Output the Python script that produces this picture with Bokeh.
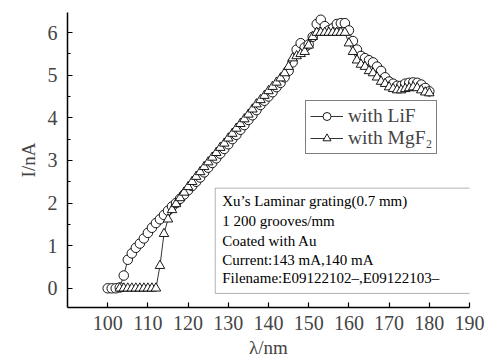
from bokeh.plotting import figure
from bokeh.models import Range1d, Legend, LegendItem, BoxAnnotation, Label, FixedTicker
from bokeh.embed import file_html
from bokeh.resources import INLINE

# Data
lif_wl = list(range(100, 181))
lif_i = [0, 0, 0, 0.02, 0.3, 0.67, 0.82, 0.95, 1.05, 1.17,
         1.3, 1.42, 1.53, 1.62, 1.72, 1.82, 1.92, 2.0, 2.1, 2.2,
         2.3, 2.4, 2.5, 2.6, 2.72, 2.83, 2.94, 3.05, 3.16, 3.27,
         3.38, 3.5, 3.6, 3.72, 3.83, 3.95, 4.06, 4.18, 4.3, 4.4,
         4.5, 4.6, 4.72, 4.82, 4.95, 5.1, 5.3, 5.6, 5.75, 5.65,
         5.72, 5.9, 6.2, 6.3, 6.15, 6.05, 6.1, 6.2, 6.22, 6.22,
         6.05, 5.8, 5.6, 5.45, 5.4, 5.35, 5.3, 5.2, 5.1, 4.95,
         4.85, 4.8, 4.75, 4.75, 4.8, 4.82, 4.83, 4.82, 4.78, 4.7,
         4.62]

mgf2_wl = list(range(103, 181))
mgf2_i = [0, 0, 0, 0, 0, 0, 0, 0, 0, 0,
          0.53, 1.28, 1.62, 1.84, 1.98, 2.12, 2.25, 2.38, 2.5, 2.62,
          2.73, 2.85, 2.96, 3.07, 3.18, 3.3, 3.4, 3.52, 3.63, 3.75,
          3.86, 3.97, 4.08, 4.2, 4.32, 4.42, 4.52, 4.63, 4.73, 4.83,
          4.93, 5.05, 5.2, 5.4, 5.45, 5.5, 5.55, 5.7, 5.9, 6.0,
          6.0, 6.0, 6.0, 6.0, 6.0, 6.0, 6.0, 5.75, 5.55, 5.35,
          5.25, 5.2, 5.1, 5.05, 4.95, 4.85, 4.8, 4.72, 4.68, 4.65,
          4.65, 4.68, 4.7, 4.72, 4.7, 4.65, 4.6, 4.58]

x_ticks = [100, 110, 120, 130, 140, 150, 160, 170, 180, 190]
y_ticks = [0, 1, 2, 3, 4, 5, 6]
y_minor = [0.5, 1.5, 2.5, 3.5, 4.5, 5.5]

series_labels = ["with LiF", "with MgF\u2082"]
info_lines = ["Xu\u2019s Laminar grating(0.7 mm)",
              "1 200 grooves/mm",
              "Coated with Au",
              "Current:143 mA,140 mA",
              "Filename:E09122102\u2013,E09122103\u2013"]

FONT = "Liberation Serif"

p = figure(width=489, height=360, output_backend="svg", toolbar_location=None,
           x_range=Range1d(90, 190), y_range=Range1d(-0.45, 6.47),
           min_border_left=67, min_border_right=20, min_border_top=12, min_border_bottom=50)
p.outline_line_color = None
p.xgrid.visible = False
p.ygrid.visible = False

for ax in (p.xaxis[0], p.yaxis[0]):
    ax.axis_line_width = 1.5
    ax.major_tick_line_width = 1.2
    ax.minor_tick_line_width = 1.2
    ax.major_tick_in = 5
    ax.major_tick_out = 0
    ax.minor_tick_in = 3
    ax.minor_tick_out = 0
    ax.major_label_text_font = FONT
    ax.major_label_text_font_size = "20px"
    ax.axis_label_text_font = FONT
    ax.axis_label_text_font_size = "19px"
    ax.axis_label_text_font_style = "normal"

p.xaxis[0].ticker = FixedTicker(ticks=x_ticks)
p.yaxis[0].ticker = FixedTicker(ticks=y_ticks, minor_ticks=y_minor)
p.xaxis[0].axis_label = "\u03bb/nm"
p.yaxis[0].axis_label = "I/nA"
p.xaxis[0].major_label_standoff = 8
p.yaxis[0].major_label_standoff = 10
p.xaxis[0].axis_label_standoff = 4
p.yaxis[0].axis_label_standoff = 6

l1 = p.line(lif_wl, lif_i, line_color="black", line_width=0.8)
c1 = p.scatter(lif_wl, lif_i, marker="circle", size=9.5, line_color="black",
               fill_color="white", line_width=0.9)
l2 = p.line(mgf2_wl, mgf2_i, line_color="black", line_width=0.8)
c2 = p.scatter(mgf2_wl, mgf2_i, marker="triangle", size=9.5, line_color="black",
               fill_color="white", line_width=0.9)

legend = Legend(items=[LegendItem(label=series_labels[0], renderers=[l1, c1]),
                       LegendItem(label=series_labels[1], renderers=[l2, c2])],
                location=(238, 153), border_line_color="black", border_line_width=1,
                background_fill_alpha=1, padding=4, spacing=0, margin=0,
                glyph_width=33, glyph_height=20, label_height=20, label_standoff=5,
                label_text_font=FONT, label_text_font_size="19.5px")
p.add_layout(legend)

box = BoxAnnotation(left=126.75, right=191, bottom=-0.12, top=2.35,
                    fill_color="white", fill_alpha=1, line_color="black", line_width=1)
p.add_layout(box)

ys = [2.05, 1.58, 1.12, 0.67, 0.25]
for txt, yv in zip(info_lines, ys):
    p.add_layout(Label(x=128.5, y=yv, text=txt, text_font=FONT, text_font_size="15px",
                       text_baseline="middle", text_color="black"))

open("out.html", "w").write(file_html(p, INLINE))
